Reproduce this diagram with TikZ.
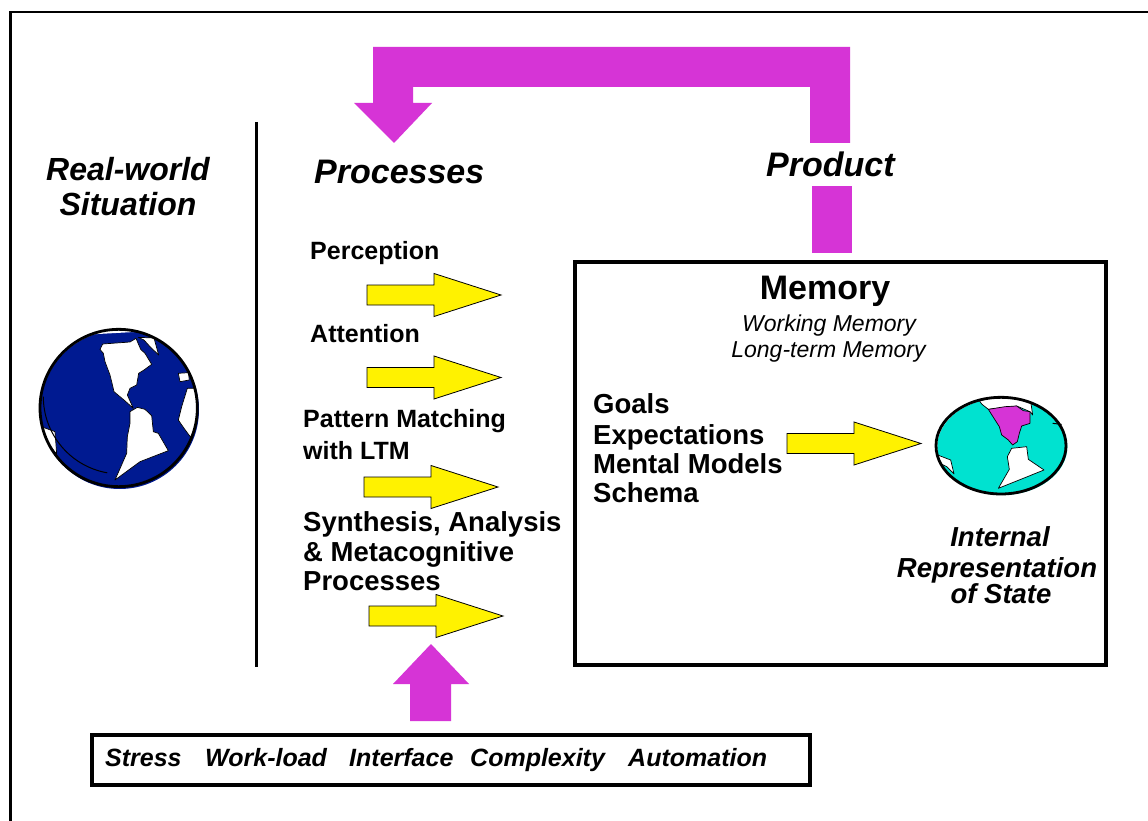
\documentclass[tikz,border=0pt]{standalone}
\usepackage{fontspec}
\setmainfont{Liberation Sans}
\definecolor{mag}{RGB}{214,52,214}
\definecolor{globeblue}{RGB}{0,26,145}
\definecolor{globeteal}{RGB}{0,226,208}
\begin{document}
\begin{tikzpicture}[x=1pt,y=-1pt,
  boxframe/.style={draw=black,line width=4pt},
  magshape/.style={fill=mag,draw=none},
  yarrowsty/.style={fill=yellow,draw=black,line width=0.8pt,line join=miter},
  continent/.style={draw=black,line width=0.7pt,line join=round},
  lblA/.style={font=\bfseries\fontsize{25}{30}\selectfont,anchor=base west,inner sep=0pt},
  lblB/.style={font=\bfseries\fontsize{27.5}{30}\selectfont,anchor=base west,inner sep=0pt},
  head/.style={font=\bfseries\itshape\fontsize{34}{40}\selectfont,anchor=base west,inner sep=0pt},
  headrw/.style={font=\bfseries\itshape\fontsize{32}{36}\selectfont,anchor=base,inner sep=0pt},
  irs/.style={font=\bfseries\itshape\fontsize{27.5}{30}\selectfont,anchor=base,inner sep=0pt},
  memsub/.style={font=\itshape\fontsize{23}{26}\selectfont,anchor=base,inner sep=0pt},
  factor/.style={font=\bfseries\itshape\fontsize{25}{30}\selectfont,anchor=base west,inner sep=0pt},
  yarrow/.pic={\draw[yarrowsty] (0,-10)--(67,-10)--(67,-21.5)--(134,0)--(67,21.5)--(67,10)--(0,10)--cycle;}
]
\useasboundingbox (0,0) rectangle (1148,821);
\fill[white] (0,0) rectangle (1148,821);

% outer frame (top and left visible)
\draw[line width=2.5pt] (10.5,821) -- (10.5,12.2) -- (1148,12.2);

% separator
\draw[line width=3pt] (256,122) -- (256,667);

% memory box and factor box
\draw[boxframe] (575,262) rectangle (1106,665);
\draw[boxframe] (92,735) rectangle (810,785);

% magenta feedback arrow
\fill[magshape] (373,47) -- (850,47) -- (850,143) -- (810,143) -- (810,87) -- (413,87)
   -- (413,103) -- (432,103) -- (394,143) -- (354,103) -- (373,103) -- cycle;
\fill[magshape] (812,186) rectangle (852,253);
% magenta up arrow
\fill[magshape] (410,721) -- (410,684) -- (393,684) -- (431,644) -- (469,684) -- (451,684) -- (451,721) -- cycle;

% yellow arrows
\pic at (367,295) {yarrow};
\pic at (367,377.5) {yarrow};
\pic at (364,487) {yarrow};
\pic at (369,616) {yarrow};
\pic at (787,443.5) {yarrow};

% left globe
\begin{scope}[shift={(30,320)},scale=1/3]
  \fill[globeblue] (269,269) circle (238);
  \begin{scope}
    \clip (266,264) circle (238);
    \fill[white] (150,20) -- (330,20) -- (330,35) -- (150,45) -- cycle;
    \filldraw[white,continent] (210,88) -- (218,72) -- (300,66) -- (318,55) -- (332,88) -- (345,100) -- (365,133)
      -- (342,150) -- (326,160) -- (320,195) -- (300,205) -- (292,225) -- (310,265)
      -- (282,240) -- (252,215) -- (245,185) -- (240,165) -- (225,125) -- (220,100) -- cycle;
    \filldraw[white,continent] (325,52) -- (372,54) -- (386,105) -- (360,80) -- (342,60) -- cycle;
    \filldraw[white,continent] (445,160) -- (475,158) -- (478,180) -- (450,185) -- cycle;
    \filldraw[white,continent] (472,205) -- (505,205) -- (505,300) -- (482,352) -- (460,322) -- (445,300) -- (455,260) -- cycle;
    \filldraw[white,continent] (300,275) -- (322,262) -- (345,268) -- (365,287) -- (370,335) -- (385,340)
      -- (415,392) -- (330,425) -- (255,480) -- (290,400) -- (292,350) -- (300,310) -- cycle;
    \filldraw[white,continent] (20,315) -- (75,335) -- (80,402) -- (60,378) -- (30,340) -- cycle;
  \end{scope}
  \draw[line width=2.8pt] (266,264) circle (236);
  \draw[line width=1pt] (40,230) arc[start angle=180,end angle=100,radius=232];
\end{scope}

% right globe
\begin{scope}[shift={(920,390)},scale=1/3]
  \fill[globeteal] (247,170) ellipse [x radius=195,y radius=145];
  \begin{scope}
    \clip (243,167) ellipse [x radius=195,y radius=145];
    \filldraw[white,continent] (170,20) -- (330,20) -- (338,75) -- (330,65) -- (290,48) -- (205,58) -- (185,42) -- cycle;
    \filldraw[mag,continent] (205,58) -- (255,50) -- (290,48) -- (310,62) -- (330,65) -- (330,100) -- (305,108)
      -- (298,130) -- (292,155) -- (278,165) -- (265,150) -- (245,135) -- (238,110) -- (222,85) -- cycle;
    \filldraw[white,continent] (275,175) -- (320,170) -- (325,208) -- (372,240) -- (235,295) -- (268,238) -- (262,200) -- cycle;
    \filldraw[white,continent] (40,190) -- (92,210) -- (102,252) -- (80,230) -- (50,215) -- cycle;
  \end{scope}
  \draw[line width=1pt] (398,100) -- (425,103);
  \draw[line width=2.8pt] (243,167) ellipse [x radius=195,y radius=145];
\end{scope}

% headings
\node[headrw] (rw1) at (128,181) {Real-world};
\node[headrw] (rw2) at (128,215) {Situation};
\node[head] (proc) at (314,184) {Processes};
\node[head] (prod) at (766,177) {Product};

% process labels
\node[lblA] (perc) at (310,259) {Perception};
\node[lblA] (att) at (310,342) {Attention};
\node[lblA] (pm1) at (303,427) {Pattern Matching};
\node[lblA] (pm2) at (303,459) {with LTM};
\node[lblB] (syn1) at (303,531) {Synthesis, Analysis};
\node[lblB] (syn2) at (303,561) {\& Metacognitive};
\node[lblB] (syn3) at (303,590) {Processes};

% memory
\node[font=\bfseries\fontsize{34}{40}\selectfont,anchor=base,inner sep=0pt] (mem) at (825,299) {Memory};
\node[memsub] (wm) at (829,331) {Working Memory};
\node[memsub] (ltm) at (828.5,357) {Long-term Memory};
\node[lblB] (g1) at (593,413) {Goals};
\node[lblB] (g2) at (593,444) {Expectations};
\node[lblB] (g3) at (593,473) {Mental Models};
\node[lblB] (g4) at (593,502) {Schema};

% internal representation
\node[irs] (ir1) at (1000,546) {Internal};
\node[irs] (ir2) at (997,577) {Representation};
\node[irs] (ir3) at (1001,603) {of State};

% factors
\node[factor] (f1) at (105,766) {Stress};
\node[factor] (f2) at (205,766) {Work-load};
\node[factor] (f3) at (349,766) {Interface};
\node[factor] (f4) at (470,766) {Complexity};
\node[factor] (f5) at (628,766) {Automation};
\end{tikzpicture}
\end{document}
